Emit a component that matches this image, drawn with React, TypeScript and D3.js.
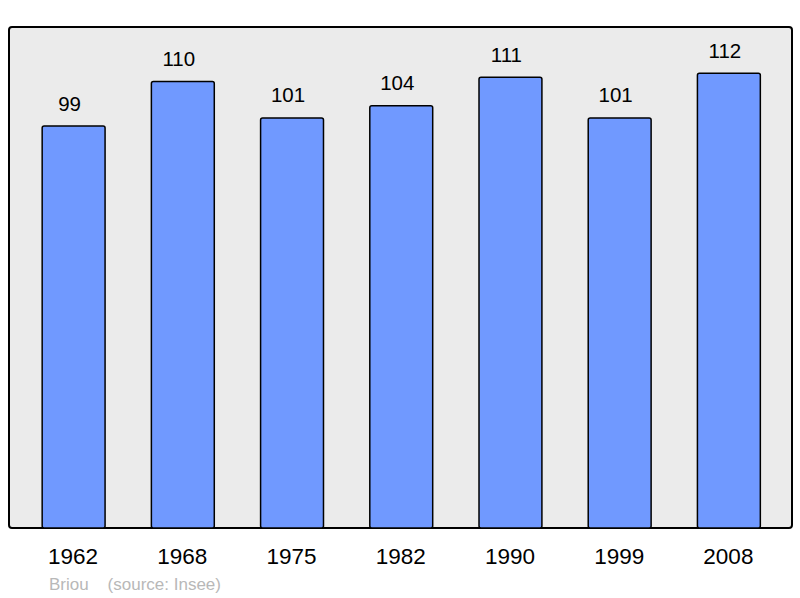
import React from "react";
import * as d3 from "d3";

const years = ["1962", "1968", "1975", "1982", "1990", "1999", "2008"];
const population = [99, 110, 101, 104, 111, 101, 112];
const caption = "Briou    (source: Insee)";

export default function App() {
  const W = 800, H = 598;
  const left = 9, right = 792, top = 27, bottom = 528;
  const x = d3.scaleBand<string>().domain(years).range([left + 1.5, right]).paddingInner(0.424).paddingOuter(0.29);
  const y = d3.scaleLinear().domain([0, 123.4]).range([bottom, top]);
  const font = "'Liberation Sans', Arial, sans-serif";
  return (
    <svg width={W} height={H} style={{ position: "absolute", left: 0, top: 0 }} fontFamily={font}>
      <rect x={left} y={top} width={right - left} height={bottom - top} rx={3} fill="#ebebeb" stroke="#000" strokeWidth={2} />
      {years.map((yr, i) => {
        const bx = x(yr)!;
        const bw = x.bandwidth();
        const by = y(population[i]);
        return (
          <g key={yr}>
            <rect x={bx} y={by} width={bw} height={bottom - by} rx={2} fill="#7099ff" stroke="#000" strokeWidth={1.5} />
            <text x={bx + bw / 2 - 4} y={by - 15.5} textAnchor="middle" fontSize={20.5} fill="#000">{population[i]}</text>
            <text x={bx + bw / 2 - 0.5} y={564} textAnchor="middle" fontSize={22.5} fill="#000">{yr}</text>
          </g>
        );
      })}
      <text x={49} y={590} fontSize={17} fill="#b8b8b8" style={{ whiteSpace: "pre" }}>{caption}</text>
    </svg>
  );
}
